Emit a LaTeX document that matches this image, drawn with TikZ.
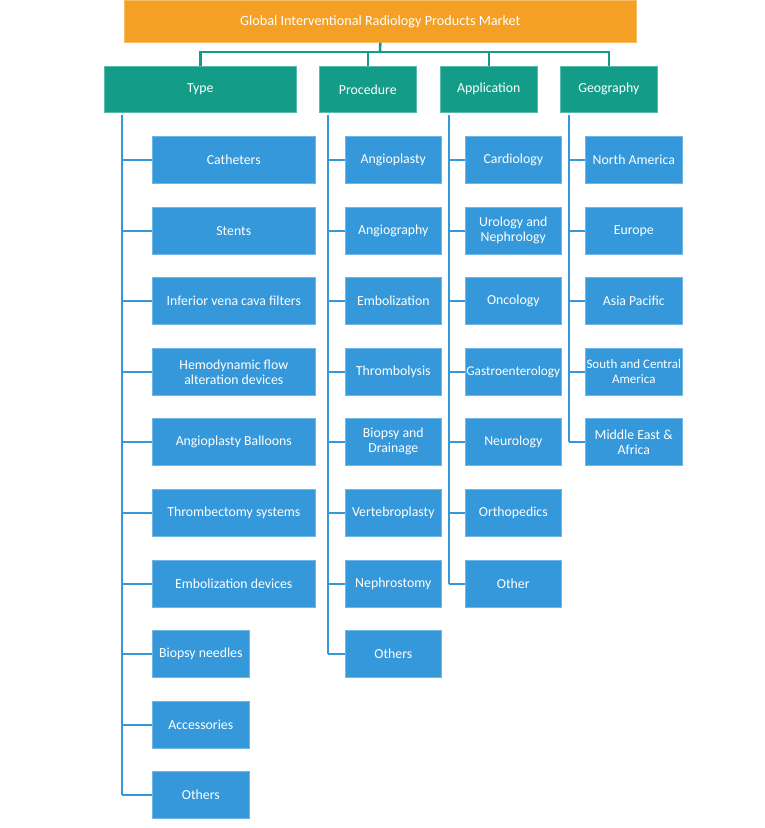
\documentclass[tikz,border=0pt]{standalone}
\usepackage{fontspec}
\setmainfont{Carlito}
\definecolor{orng}{HTML}{F4A025}
\definecolor{teal1}{HTML}{139D89}
\definecolor{blue1}{HTML}{3498DA}
\begin{document}
\begin{tikzpicture}[x=1pt,y=-1pt,
  rootbox/.style={fill=orng, draw=orng!70!white, line width=0.6pt, text=white, font=\fontsize{14.2}{15}\selectfont, anchor=north west, inner sep=0pt},
  catbox/.style={fill=teal1, draw=teal1!70!white, line width=0.6pt, text=white, font=\fontsize{13.8}{15}\selectfont, anchor=north west, inner sep=0pt},
  leaf/.style={fill=blue1, draw=blue1!70!white, line width=0.6pt, text=white, font=\fontsize{13.8}{15}\selectfont, anchor=north west, inner sep=0pt, align=center, minimum height=47pt},
  tconn/.style={draw=teal1, line width=2.6pt},
  bconn/.style={draw=blue1, line width=2pt}]
\useasboundingbox (0,0) rectangle (764,828);
% root
\node[rootbox, minimum width=512pt, minimum height=42pt] (root) at (124,0) {Global Interventional Radiology Products Market};
% categories
\node[catbox, minimum width=192pt, minimum height=46pt] (type) at (104,66) {Type};
\node[catbox, minimum width=97pt, minimum height=46pt] (proc) at (319,66) {Procedure};
\node[catbox, minimum width=97pt, minimum height=46pt] (app) at (440,66) {Application};
\node[catbox, minimum width=97pt, minimum height=46pt] (geo) at (560,66) {Geography};
\coordinate (hb) at (380,52);
\draw[tconn] (root.south) -- (hb);
\draw[tconn] (type.north) |- (hb) -| (geo.north);
\draw[tconn] (proc.north) -- (proc.north |- hb);
\draw[tconn] (app.north) -- (app.north |- hb);
% Type leaves
\node[leaf, minimum width=163pt] (t1) at (152,136) {Catheters};
\node[leaf, minimum width=163pt] (t2) at (152,207) {Stents};
\node[leaf, minimum width=163pt] (t3) at (152,277) {Inferior vena cava filters};
\node[leaf, minimum width=163pt] (t4) at (152,348) {Hemodynamic flow\\alteration devices};
\node[leaf, minimum width=163pt] (t5) at (152,418) {Angioplasty Balloons};
\node[leaf, minimum width=163pt] (t6) at (152,489) {Thrombectomy systems};
\node[leaf, minimum width=163pt] (t7) at (152,560) {Embolization devices};
\node[leaf, minimum width=97pt] (t8) at (152,630) {Biopsy needles};
\node[leaf, minimum width=97pt] (t9) at (152,701) {Accessories};
\node[leaf, minimum width=97pt] (t10) at (152,771) {Others};
\coordinate (tv) at (122,115);
\draw[bconn] (tv) -- (tv |- t10.west);
\foreach \n in {t1,t2,t3,t4,t5,t6,t7,t8,t9,t10} \draw[bconn] (tv |- \n.west) -- (\n.west);
% Procedure leaves
\node[leaf, minimum width=96pt] (p1) at (345,136) {Angioplasty};
\node[leaf, minimum width=96pt] (p2) at (345,207) {Angiography};
\node[leaf, minimum width=96pt] (p3) at (345,277) {Embolization};
\node[leaf, minimum width=96pt] (p4) at (345,348) {Thrombolysis};
\node[leaf, minimum width=96pt] (p5) at (345,418) {Biopsy and\\Drainage};
\node[leaf, minimum width=96pt] (p6) at (345,489) {Vertebroplasty};
\node[leaf, minimum width=96pt] (p7) at (345,560) {Nephrostomy};
\node[leaf, minimum width=96pt] (p8) at (345,630) {Others};
\coordinate (pv) at (328,115);
\draw[bconn] (pv) -- (pv |- p8.west);
\foreach \n in {p1,p2,p3,p4,p5,p6,p7,p8} \draw[bconn] (pv |- \n.west) -- (\n.west);
% Application leaves
\node[leaf, minimum width=96pt] (a1) at (465,136) {Cardiology};
\node[leaf, minimum width=96pt] (a2) at (465,207) {Urology and\\Nephrology};
\node[leaf, minimum width=96pt] (a3) at (465,277) {Oncology};
\node[leaf, minimum width=96pt, font=\fontsize{13.3}{15}\selectfont] (a4) at (465,348) {Gastroenterology};
\node[leaf, minimum width=96pt] (a5) at (465,418) {Neurology};
\node[leaf, minimum width=96pt] (a6) at (465,489) {Orthopedics};
\node[leaf, minimum width=96pt] (a7) at (465,560) {Other};
\coordinate (av) at (449,115);
\draw[bconn] (av) -- (av |- a7.west);
\foreach \n in {a1,a2,a3,a4,a5,a6,a7} \draw[bconn] (av |- \n.west) -- (\n.west);
% Geography leaves
\node[leaf, minimum width=97pt] (g1) at (585,136) {North America};
\node[leaf, minimum width=97pt] (g2) at (585,207) {Europe};
\node[leaf, minimum width=97pt] (g3) at (585,277) {Asia Pacific};
\node[leaf, minimum width=97pt, font=\fontsize{13}{15}\selectfont] (g4) at (585,348) {South and Central\\America};
\node[leaf, minimum width=97pt] (g5) at (585,418) {Middle East \&\\Africa};
\coordinate (gv) at (569,115);
\draw[bconn] (gv) -- (gv |- g5.west);
\foreach \n in {g1,g2,g3,g4,g5} \draw[bconn] (gv |- \n.west) -- (\n.west);
\end{tikzpicture}
\end{document}
